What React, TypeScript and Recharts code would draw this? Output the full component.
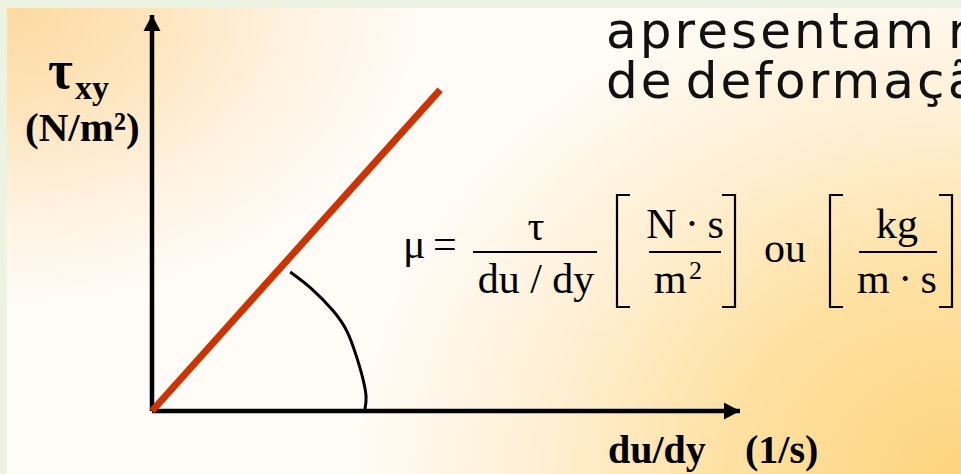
import { ComposedChart, Line, XAxis, YAxis } from 'recharts';

// Newtonian fluid: shear stress grows linearly with shear rate
const shearRate = [0, 49];
const shearStress = [0, 81.1];

// hand-drawn angle arc
const arcRate = [23.5, 27.2, 30.8, 33.2, 34.7, 35.7, 36.4, 36.2];
const arcStress = [35.1, 30.8, 25.3, 20.0, 14.1, 9.1, 3.8, 0.3];

// axis extents
const xAxisRate = [0, 100];
const xAxisStress = [0, 0];
const yAxisRate = [0, 0];
const yAxisStress = [0, 100];

const titleLines = ['apresentam re', 'de deformação'];

const toPoints = (xs: number[], ys: number[]) => xs.map((x, i) => ({ x, y: ys[i] }));

const redData = toPoints(shearRate, shearStress);
const arcData = toPoints(arcRate, arcStress);
const xAxisData = toPoints(xAxisRate, xAxisStress);
const yAxisData = toPoints(yAxisRate, yAxisStress);

// arrowheads drawn at the last point of each axis line
const ArrowRight = (props: any) => {
  const { cx, cy, index } = props;
  if (index !== xAxisData.length - 1) return <g key={`ax-${index}`} />;
  return (
    <polygon key={`ax-${index}`} points={`${cx},${cy} ${cx - 16},${cy - 8.5} ${cx - 16},${cy + 8.5}`} fill="#000" />
  );
};

const ArrowUp = (props: any) => {
  const { cx, cy, index } = props;
  if (index !== yAxisData.length - 1) return <g key={`ay-${index}`} />;
  return (
    <polygon key={`ay-${index}`} points={`${cx},${cy} ${cx - 8.5},${cy + 16} ${cx + 8.5},${cy + 16}`} fill="#000" />
  );
};

const serif = '"Liberation Serif", "Times New Roman", serif';
const thin = '\u2009';

function Bracket({ x, dir }: { x: number; dir: 1 | -1 }) {
  // dir 1 = left bracket, -1 = right bracket
  return (
    <path d={`M${x + dir * 13},195 H${x} V307 H${x + dir * 13}`} fill="none" stroke="#000" strokeWidth={2.2} />
  );
}

function Labels() {
  return (
    <svg width={961} height={474} style={{ position: 'absolute', left: 0, top: 0, pointerEvents: 'none' }}>
      {/* title text, cut by the right edge */}
      {titleLines.map((t, i) => (
        <text
          key={t}
          x={606}
          y={48 + i * 50}
          fontFamily='"DejaVu Sans", sans-serif'
          fontSize={50}
          letterSpacing={3.1}
          wordSpacing={-8}
          fill="#111"
        >
          {t}
        </text>
      ))}

      {/* y axis label */}
      <text x={48} y={88} fontFamily={serif} fontSize={54} fontWeight="bold" fill="#000">τ</text>
      <text x={75} y={99} fontFamily={serif} fontSize={34} fontWeight="bold" fill="#000">xy</text>
      <text x={25} y={141} fontFamily={serif} fontSize={41} fontWeight="bold" fill="#000">(N/m²)</text>

      {/* x axis label */}
      <text x={608} y={463} fontFamily={serif} fontSize={40} fontWeight="bold" fill="#000">du/dy</text>
      <text x={745} y={463} fontFamily={serif} fontSize={40} fontWeight="bold" fill="#000">(1/s)</text>

      {/* viscosity formula */}
      <g fontFamily={serif} fontSize={42} fill="#000">
        <text x={403} y={258}>μ</text>
        <text x={433} y={258}>=</text>
        <text x={536} y={240} textAnchor="middle">τ</text>
        <line x1={473} x2={597} y1={252} y2={252} stroke="#000" strokeWidth={2} />
        <text x={536} y={293} textAnchor="middle">du / dy</text>

        <Bracket x={617} dir={1} />
        <text x={685} y={238} textAnchor="middle">{`N${thin}·${thin}s`}</text>
        <line x1={649} x2={721} y1={252} y2={252} stroke="#000" strokeWidth={2} />
        <text x={654} y={293}>m</text>
        <text x={689} y={279} fontSize={26}>2</text>
        <Bracket x={735} dir={-1} />

        <text x={764} y={262}>ou</text>

        <Bracket x={830} dir={1} />
        <text x={897} y={238} textAnchor="middle">kg</text>
        <line x1={859} x2={937} y1={252} y2={252} stroke="#000" strokeWidth={2} />
        <text x={897} y={293} textAnchor="middle">{`m${thin}·${thin}s`}</text>
        <Bracket x={952} dir={-1} />
      </g>
    </svg>
  );
}

export default function App() {
  return (
    <div
      style={{
        position: 'absolute',
        left: 0,
        top: 0,
        width: 961,
        height: 474,
        overflow: 'hidden',
        background: '#edf3e3',
      }}
    >
      <div
        style={{
          position: 'absolute',
          left: 7,
          top: 8,
          right: 0,
          bottom: 0,
          background: [
            'radial-gradient(430px 310px at 0% 0%, #fdd9a0 0%, #fee5bd 35%, #fff3e3 68%, rgba(255,250,242,0) 100%)',
            'radial-gradient(620px 520px at 100% 100%, #fdd47e 0%, #fee1a2 38%, #fff0d6 70%, rgba(255,250,242,0) 100%)',
            '#fffcf8',
          ].join(', '),
        }}
      />
      <div style={{ position: 'absolute', left: 0, top: 0 }}>
        <ComposedChart width={961} height={474} margin={{ top: 15, right: 221, bottom: 63, left: 152 }}>
          <XAxis type="number" dataKey="x" domain={[0, 100]} hide />
          <YAxis type="number" domain={[0, 100]} hide />
          <Line
            data={xAxisData}
            dataKey="y"
            type="linear"
            stroke="#000"
            strokeWidth={4.5}
            dot={ArrowRight}
            activeDot={false}
            isAnimationActive={false}
          />
          <Line
            data={yAxisData}
            dataKey="y"
            type="linear"
            stroke="#000"
            strokeWidth={4.5}
            dot={ArrowUp}
            activeDot={false}
            isAnimationActive={false}
          />
          <Line
            data={redData}
            dataKey="y"
            type="linear"
            stroke="#cc3300"
            strokeWidth={7}
            dot={false}
            activeDot={false}
            isAnimationActive={false}
          />
          <Line
            data={arcData}
            dataKey="y"
            type="natural"
            stroke="#000"
            strokeWidth={3}
            dot={false}
            activeDot={false}
            isAnimationActive={false}
          />
        </ComposedChart>
      </div>
      <Labels />
    </div>
  );
}
